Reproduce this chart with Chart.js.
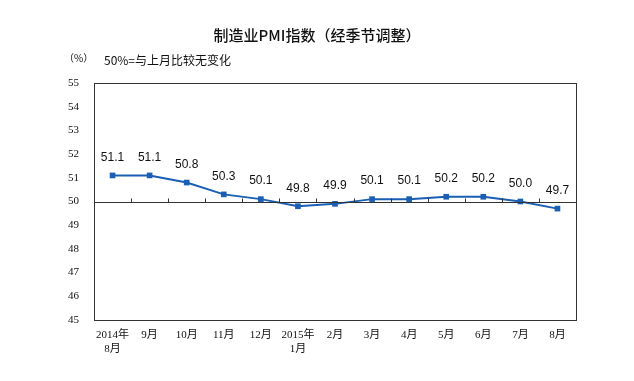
<!DOCTYPE html>
<html><head><meta charset="utf-8">
<script src="https://cdn.jsdelivr.net/npm/chart.js@4/dist/chart.umd.min.js"></script>
<style>html,body{margin:0;padding:0;background:#fff}canvas{display:block}</style>
</head><body>
<canvas id="c" width="634" height="381"></canvas>
<script>
const categories = [['2014年','8月'],'9月','10月','11月','12月',['2015年','1月'],'2月','3月','4月','5月','6月','7月','8月'];
const pmiValues = [51.1, 51.1, 50.8, 50.3, 50.1, 49.8, 49.9, 50.1, 50.1, 50.2, 50.2, 50.0, 49.7];
const yMin = 45, yMax = 55, baseline = 50;
const titleText = '制造业PMI指数（经季节调整）';
const unitText = '（%）';
const noteText = '50%=与上月比较无变化';

const CJK = '"Noto Sans CJK SC", sans-serif';
const SERIF = '"Liberation Serif", "Noto Sans CJK SC", serif';

const decor = {
  id: 'decor',
  afterDraw(chart) {
    const ctx = chart.ctx, a = chart.chartArea, x = chart.scales.x, y = chart.scales.y;
    ctx.save();
    ctx.strokeStyle = '#333'; ctx.lineWidth = 1;
    ctx.strokeRect(Math.round(a.left) + 0.5, Math.round(a.top) + 0.5, Math.round(a.right - a.left), Math.round(a.bottom - a.top));
    const yb = Math.round(y.getPixelForValue(baseline)) + 0.5;
    ctx.beginPath(); ctx.moveTo(a.left, yb); ctx.lineTo(a.right, yb); ctx.stroke();
    const step = x.getPixelForValue(1) - x.getPixelForValue(0);
    for (let i = 1; i < categories.length; i++) {
      const xp = Math.round(x.getPixelForValue(i) - step / 2) + 0.5;
      ctx.beginPath(); ctx.moveTo(xp, yb); ctx.lineTo(xp, yb - 4); ctx.stroke();
    }
    ctx.fillStyle = '#111';
    ctx.font = '12px "Liberation Sans", Arial, sans-serif';
    ctx.textAlign = 'center'; ctx.textBaseline = 'middle';
    const meta = chart.getDatasetMeta(0);
    meta.data.forEach((pt, i) => {
      ctx.fillText(pmiValues[i].toFixed(1), pt.x, pt.y - 18);
    });
    ctx.fillStyle = '#111';
    ctx.font = '500 15px ' + CJK;
    ctx.fillText(titleText, 317, 35);
    ctx.font = '10px ' + CJK;
    ctx.textAlign = 'left';
    ctx.fillText(unitText, 64, 58);
    ctx.font = '12px ' + CJK;
    ctx.fillText(noteText, 104, 60);
    ctx.restore();
  }
};

new Chart(document.getElementById('c'), {
  type: 'line',
  data: {
    labels: categories,
    datasets: [{
      data: pmiValues,
      borderColor: '#1a5fb4',
      backgroundColor: '#1a5fb4',
      borderWidth: 2,
      pointStyle: 'rect',
      pointRadius: 4,
      pointBorderWidth: 0,
      tension: 0
    }]
  },
  options: {
    responsive: false,
    animation: false,
    layout: { padding: { left: 0, right: 58, top: 83, bottom: 0 } },
    plugins: { legend: { display: false }, tooltip: { enabled: false }, title: { display: false } },
    scales: {
      x: {
        offset: true,
        grid: { display: false, drawTicks: false },
        border: { display: false },
        ticks: { color: '#111', font: { family: SERIF, size: 11, lineHeight: 1.3 }, padding: 8, maxRotation: 0, autoSkip: false },
        afterFit(s) { s.height = 61; }
      },
      y: {
        min: yMin, max: yMax,
        grid: { display: false, drawTicks: false },
        border: { display: false },
        ticks: { stepSize: 1, color: '#111', font: { family: SERIF, size: 11 }, padding: 15 },
        afterFit(s) { s.width = 94; }
      }
    }
  },
  plugins: [decor]
});
</script>
</body></html>
